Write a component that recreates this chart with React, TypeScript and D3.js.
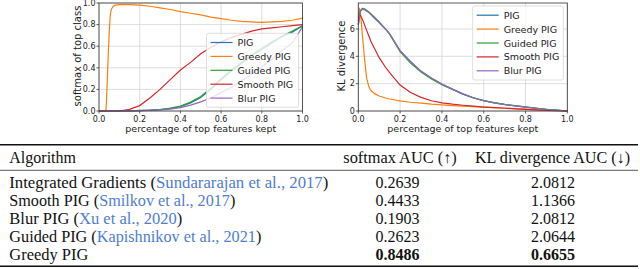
import React, { useEffect, useRef } from 'react';
import * as d3 from 'd3';

// left panel: softmax of top class vs fraction kept
const softmaxX = [0, 0.03, 0.035, 0.04, 0.045, 0.05, 0.055, 0.06, 0.07, 0.08, 0.1, 0.15, 0.2, 0.25, 0.3, 0.35, 0.4, 0.45, 0.5, 0.55, 0.6, 0.65, 0.7, 0.75, 0.8, 0.85, 0.9, 0.95, 1];
const softmaxPIG = [0, 0, 0, 0, 0, 0, 0, 0, 0, 0, 0, 0.002, 0.004, 0.007, 0.012, 0.022, 0.04, 0.075, 0.125, 0.2, 0.29, 0.37, 0.44, 0.51, 0.57, 0.63, 0.69, 0.73, 0.79];
const softmaxGreedy = [0, 0, 0.02, 0.25, 0.5, 0.72, 0.88, 0.94, 0.97, 0.98, 0.985, 0.985, 0.98, 0.97, 0.955, 0.94, 0.92, 0.905, 0.89, 0.87, 0.855, 0.84, 0.83, 0.825, 0.82, 0.825, 0.83, 0.84, 0.86];
const softmaxGuided = [0, 0, 0, 0, 0, 0, 0, 0, 0, 0, 0, 0.002, 0.005, 0.008, 0.014, 0.026, 0.046, 0.082, 0.135, 0.21, 0.3, 0.38, 0.45, 0.52, 0.58, 0.64, 0.695, 0.74, 0.79];
const softmaxSmooth = [0, 0, 0, 0, 0, 0, 0, 0, 0, 0, 0, 0.015, 0.05, 0.12, 0.2, 0.29, 0.38, 0.45, 0.53, 0.59, 0.64, 0.68, 0.71, 0.74, 0.76, 0.77, 0.78, 0.79, 0.8];
const softmaxBlur = [0, 0, 0, 0, 0, 0, 0, 0, 0, 0, 0, 0.001, 0.003, 0.006, 0.01, 0.018, 0.032, 0.055, 0.085, 0.12, 0.17, 0.22, 0.28, 0.34, 0.41, 0.48, 0.56, 0.63, 0.78];

// right panel: KL divergence vs fraction kept
const klX = [0, 0.005, 0.01, 0.02, 0.03, 0.04, 0.05, 0.06, 0.08, 0.1, 0.13, 0.15, 0.2, 0.25, 0.3, 0.35, 0.4, 0.45, 0.5, 0.55, 0.6, 0.65, 0.7, 0.75, 0.8, 0.85, 0.9, 0.95, 1];
const klPIG = [6.3, 6.9, 7.3, 7.5, 7.45, 7.35, 7.25, 7.1, 6.8, 6.5, 6.0, 5.65, 4.4, 3.6, 2.9, 2.4, 1.95, 1.6, 1.25, 0.97, 0.76, 0.6, 0.48, 0.38, 0.29, 0.2, 0.12, 0.06, 0];
const klGreedy = [6.8, 7.55, 7.2, 5.5, 3.8, 2.4, 1.8, 1.5, 1.25, 1.1, 0.95, 0.88, 0.74, 0.64, 0.57, 0.5, 0.45, 0.4, 0.36, 0.32, 0.29, 0.25, 0.22, 0.18, 0.14, 0.1, 0.07, 0.03, 0];
const klGuided = [6.3, 6.9, 7.35, 7.5, 7.45, 7.35, 7.25, 7.1, 6.8, 6.5, 6.0, 5.6, 4.35, 3.5, 2.85, 2.35, 1.92, 1.57, 1.23, 0.96, 0.76, 0.61, 0.49, 0.39, 0.3, 0.21, 0.13, 0.06, 0];
const klSmooth = [6.6, 7.0, 7.0, 6.7, 6.3, 5.9, 5.5, 5.1, 4.5, 3.9, 3.2, 2.8, 1.9, 1.35, 1.0, 0.75, 0.6, 0.5, 0.42, 0.35, 0.29, 0.24, 0.2, 0.16, 0.12, 0.08, 0.05, 0.02, 0];
const klBlur = [6.3, 6.9, 7.3, 7.45, 7.4, 7.3, 7.2, 7.05, 6.75, 6.45, 6.0, 5.65, 4.42, 3.62, 2.92, 2.42, 1.97, 1.6, 1.25, 0.97, 0.75, 0.59, 0.47, 0.37, 0.28, 0.19, 0.11, 0.05, 0];

const seriesNames = ['PIG', 'Greedy PIG', 'Guided PIG', 'Smooth PIG', 'Blur PIG'];
const seriesColors = ['#1f77b4', '#ff7f0e', '#2ca02c', '#d62728', '#9467bd'];
const xTicks = [0, 0.2, 0.4, 0.6, 0.8, 1.0];
const softmaxTicks = [0, 0.2, 0.4, 0.6, 0.8, 1.0];
const klTicks = [0, 2, 4, 6];

// table
const tableHeader = ['Algorithm', 'softmax AUC (\u2191)', 'KL divergence AUC (\u2193)'];
const algoNames = ['Integrated Gradients', 'Smooth PIG', 'Blur PIG', 'Guided PIG', 'Greedy PIG'];
const algoRefs = ['Sundararajan et al., 2017', 'Smilkov et al., 2017', 'Xu et al., 2020', 'Kapishnikov et al., 2021', ''];
const softmaxAUC = ['0.2639', '0.4433', '0.1903', '0.2623', '0.8486'];
const klAUC = ['2.0812', '1.1366', '2.0812', '2.0644', '0.6655'];
const rowWidths = [319, 226, 173, 252, 79];

export default function App() {
  const ref = useRef<SVGSVGElement>(null);

  useEffect(() => {
    const svg = d3.select(ref.current);
    svg.selectAll('*').remove();

    drawPanel(svg, {
      x0: 99, x1: 302.5, y0: 111, y1: 3,
      yDomain: [0, 1], yTicks: softmaxTicks, yFmt: d3.format('.1f'),
      xs: softmaxX,
      values: [softmaxPIG, softmaxGreedy, softmaxGuided, softmaxSmooth, softmaxBlur],
      yLabel: 'softmax of top class', yLabelX: 81.3,
      legend: { x: 206.5, y: 33.3, w: 92, h: 74 },
    });
    drawPanel(svg, {
      x0: 358.3, x1: 567.3, y0: 111, y1: 3,
      yDomain: [0, 7.9], yTicks: klTicks, yFmt: d3.format('d'),
      xs: klX,
      values: [klPIG, klGreedy, klGuided, klSmooth, klBlur],
      yLabel: 'KL divergence', yLabelX: 345.3,
      legend: { x: 472.7, y: 6, w: 90.6, h: 74 },
    });

    drawTable(svg);
  }, []);

  return (
    <svg
      ref={ref}
      width={640}
      height={269}
      style={{ position: 'absolute', left: 0, top: 0, background: '#fff' }}
    />
  );
}

function drawPanel(svg: any, o: any) {
  const x = d3.scaleLinear().domain([0, 1]).range([o.x0, o.x1]);
  const y = d3.scaleLinear().domain(o.yDomain).range([o.y0, o.y1]);
  const g = svg.append('g');
  const sans = 'DejaVu Sans, sans-serif';

  // grid
  g.selectAll('.gx').data(xTicks).enter().append('line')
    .attr('x1', (d: number) => x(d)).attr('x2', (d: number) => x(d))
    .attr('y1', o.y0).attr('y2', o.y1)
    .attr('stroke', '#d4d4d4').attr('stroke-width', 0.8);
  g.selectAll('.gy').data(o.yTicks).enter().append('line')
    .attr('x1', o.x0).attr('x2', o.x1)
    .attr('y1', (d: number) => y(d)).attr('y2', (d: number) => y(d))
    .attr('stroke', '#d4d4d4').attr('stroke-width', 0.8);

  // lines
  const line = d3.line<number>()
    .x((_d, i) => x(o.xs[i]))
    .y((d) => y(d));
  o.values.forEach((vals: number[], i: number) => {
    g.append('path')
      .attr('d', line(vals))
      .attr('fill', 'none')
      .attr('stroke', seriesColors[i])
      .attr('stroke-width', 1.2);
  });

  // frame
  g.append('rect')
    .attr('x', o.x0).attr('y', o.y1)
    .attr('width', o.x1 - o.x0).attr('height', o.y0 - o.y1)
    .attr('fill', 'none').attr('stroke', '#333').attr('stroke-width', 0.8);

  // ticks
  xTicks.forEach((t) => {
    g.append('line').attr('x1', x(t)).attr('x2', x(t))
      .attr('y1', o.y0).attr('y2', o.y0 + 2.5)
      .attr('stroke', '#333').attr('stroke-width', 0.8);
    g.append('text').attr('x', x(t)).attr('y', o.y0 + 10.8)
      .attr('text-anchor', 'middle').attr('font-family', sans).attr('font-size', 8)
      .attr('fill', '#222').text(d3.format('.1f')(t));
  });
  o.yTicks.forEach((t: number) => {
    g.append('line').attr('x1', o.x0 - 2.5).attr('x2', o.x0)
      .attr('y1', y(t)).attr('y2', y(t))
      .attr('stroke', '#333').attr('stroke-width', 0.8);
    g.append('text').attr('x', o.x0 - 3.5).attr('y', y(t) + 2.8)
      .attr('text-anchor', 'end').attr('font-family', sans).attr('font-size', 8)
      .attr('fill', '#222').text(o.yFmt(t));
  });

  // axis labels
  g.append('text').attr('x', (o.x0 + o.x1) / 2).attr('y', 132)
    .attr('text-anchor', 'middle').attr('font-family', sans).attr('font-size', 9.5)
    .attr('fill', '#222').text('percentage of top features kept');
  g.append('text')
    .attr('transform', `translate(${o.yLabelX},${(o.y0 + o.y1) / 2 - 1}) rotate(-90)`)
    .attr('text-anchor', 'middle').attr('font-family', sans).attr('font-size', 10)
    .attr('fill', '#222').text(o.yLabel);

  // legend
  const L = o.legend;
  g.append('rect').attr('x', L.x).attr('y', L.y).attr('width', L.w).attr('height', L.h)
    .attr('rx', 2).attr('fill', 'rgba(255,255,255,0.8)')
    .attr('stroke', '#d6d6d6').attr('stroke-width', 0.8);
  seriesNames.forEach((name, i) => {
    const cy = L.y + 9.2 + i * 13.9;
    g.append('line').attr('x1', L.x + 4).attr('x2', L.x + 26)
      .attr('y1', cy).attr('y2', cy)
      .attr('stroke', seriesColors[i]).attr('stroke-width', 1.2);
    g.append('text').attr('x', L.x + 31).attr('y', cy + 3.5)
      .attr('font-family', sans).attr('font-size', 9.5).attr('fill', '#222').text(name);
  });
}

function drawTable(svg: any) {
  const serif = 'Liberation Serif, serif';
  const g = svg.append('g');
  const rowY = d3.scalePoint<number>().domain(d3.range(5)).range([188.3, 259.8]);

  g.append('line').attr('x1', 0).attr('x2', 638).attr('y1', 144.7).attr('y2', 144.7)
    .attr('stroke', '#111').attr('stroke-width', 1.4);
  g.append('line').attr('x1', 0).attr('x2', 638).attr('y1', 170.3).attr('y2', 170.3)
    .attr('stroke', '#111').attr('stroke-width', 0.7);
  g.append('line').attr('x1', 0).attr('x2', 638).attr('y1', 266.3).attr('y2', 266.3)
    .attr('stroke', '#111').attr('stroke-width', 1.4);

  const hdr = (s: string, xx: number, anchor: string, w: number) =>
    g.append('text').attr('x', xx).attr('y', 163.3).attr('text-anchor', anchor)
      .attr('font-family', serif).attr('font-size', 16).attr('fill', '#111')
      .attr('textLength', w).attr('lengthAdjust', 'spacingAndGlyphs').text(s);
  hdr(tableHeader[0], 9.3, 'start', 66.7);
  hdr(tableHeader[1], 400, 'middle', 113.4);
  hdr(tableHeader[2], 552.5, 'middle', 155);

  algoNames.forEach((name, i) => {
    const yy = rowY(i)!;
    const t = g.append('text').attr('x', 9.3).attr('y', yy)
      .attr('font-family', serif).attr('font-size', 16).attr('fill', '#111')
      .attr('textLength', rowWidths[i]).attr('lengthAdjust', 'spacingAndGlyphs');
    t.append('tspan').text(name);
    if (algoRefs[i]) {
      t.append('tspan').text(' (');
      t.append('tspan').attr('fill', '#4f7dd0').text(algoRefs[i]);
      t.append('tspan').text(')');
    }
    const bold = i === 4 ? 'bold' : 'normal';
    g.append('text').attr('x', 397.5).attr('y', yy).attr('text-anchor', 'middle')
      .attr('font-family', serif).attr('font-size', 16).attr('font-weight', bold)
      .attr('fill', '#111').text(softmaxAUC[i]);
    g.append('text').attr('x', 553).attr('y', yy).attr('text-anchor', 'middle')
      .attr('font-family', serif).attr('font-size', 16).attr('font-weight', bold)
      .attr('fill', '#111').text(klAUC[i]);
  });
}
